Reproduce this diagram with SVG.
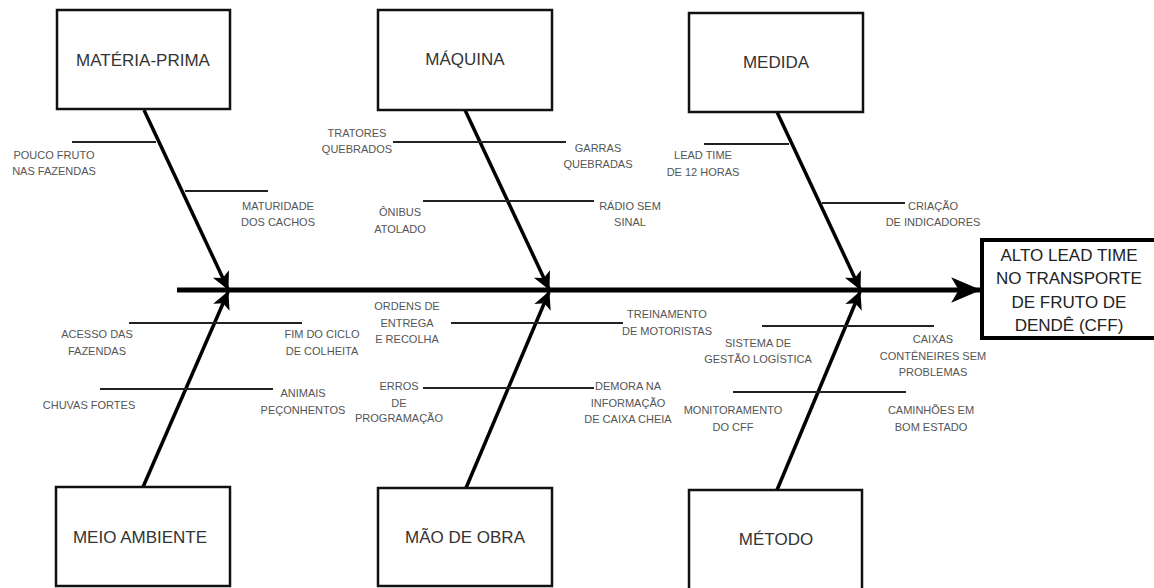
<svg xmlns="http://www.w3.org/2000/svg" width="1154" height="588" viewBox="0 0 1154 588">
<style>
.box{fill:#fff;stroke:#111;stroke-width:2.5}
.big{font-family:"Liberation Sans",Arial,sans-serif;font-size:17px;fill:#333;text-anchor:middle}
.res{font-family:"Liberation Sans",Arial,sans-serif;font-size:17px;fill:#222;text-anchor:middle}
.lbl{font-family:"Liberation Sans",Arial,sans-serif;font-size:11px;fill:#555;text-anchor:middle}
.br{stroke:#222;stroke-width:2;fill:none}
.ar{stroke:#000;stroke-width:3.5;fill:none;marker-end:url(#ah)}
.spine{stroke:#000;stroke-width:5;fill:none;marker-end:url(#ahm)}
</style>
<defs>
<marker id="ah" markerUnits="userSpaceOnUse" markerWidth="20" markerHeight="20" viewBox="-1 -9 18 18" refX="15" refY="0" orient="auto">
<path d="M0,-8 L16,0 L0,8 L4,0 Z" fill="#000"/>
</marker>
<marker id="ahm" markerUnits="userSpaceOnUse" markerWidth="32" markerHeight="30" viewBox="-1 -13 30 26" refX="27" refY="0" orient="auto">
<path d="M0,-12 L28,0 L0,12 L7,0 Z" fill="#000"/>
</marker>
</defs>
<rect width="1154" height="588" fill="#fff"/>
<g id="connectors">
<line class="spine" x1="177" y1="290" x2="980" y2="290"/>
<line class="ar" x1="144" y1="110" x2="228" y2="289"/>
<line class="ar" x1="465" y1="110" x2="549" y2="289"/>
<line class="ar" x1="777" y1="112" x2="860" y2="289"/>
<line class="ar" x1="143" y1="487" x2="228" y2="292"/>
<line class="ar" x1="466" y1="488" x2="549" y2="292"/>
<line class="ar" x1="777" y1="490" x2="860" y2="292"/>
<line class="br" x1="72" y1="142" x2="156" y2="142"/>
<line class="br" x1="185" y1="191" x2="268" y2="191"/>
<line class="br" x1="393" y1="142" x2="566" y2="142"/>
<line class="br" x1="423" y1="201" x2="594" y2="201"/>
<line class="br" x1="704" y1="144" x2="789" y2="144"/>
<line class="br" x1="822" y1="203" x2="905" y2="203"/>
<line class="br" x1="129" y1="323" x2="302" y2="323"/>
<line class="br" x1="100" y1="389" x2="273" y2="389"/>
<line class="br" x1="451" y1="323" x2="623" y2="323"/>
<line class="br" x1="423" y1="388" x2="594" y2="388"/>
<line class="br" x1="762" y1="326" x2="934" y2="326"/>
<line class="br" x1="733" y1="392" x2="906" y2="392"/>
</g>
<g id="materia-prima">
<rect class="box" x="57" y="10" width="173" height="99"/>
<text class="big" x="143" y="66">MATÉRIA-PRIMA</text>
</g>
<g id="maquina">
<rect class="box" x="378" y="10" width="174" height="100"/>
<text class="big" x="465" y="65">MÁQUINA</text>
</g>
<g id="medida">
<rect class="box" x="689" y="13" width="174" height="99"/>
<text class="big" x="776" y="68">MEDIDA</text>
</g>
<g id="meio-ambiente">
<rect class="box" x="56" y="487" width="174" height="99"/>
<text class="big" x="140" y="543">MEIO AMBIENTE</text>
</g>
<g id="mao-de-obra">
<rect class="box" x="378" y="488" width="174" height="98"/>
<text class="big" x="465" y="543">MÃO DE OBRA</text>
</g>
<g id="metodo">
<rect class="box" x="689" y="490" width="173" height="100"/>
<text class="big" x="776" y="545">MÉTODO</text>
</g>
<g id="resultado">
<rect x="982" y="240" width="180" height="98" fill="#fff" stroke="#000" stroke-width="4"/>
<text class="res" x="1069" y="261">ALTO LEAD TIME</text>
<text class="res" x="1069" y="284">NO TRANSPORTE</text>
<text class="res" x="1069" y="308">DE FRUTO DE</text>
<text class="res" x="1069" y="331">DENDÊ (CFF)</text>
</g>
<g id="labels">
<text class="lbl" x="54" y="159">POUCO FRUTO</text>
<text class="lbl" x="54" y="175">NAS FAZENDAS</text>
<text class="lbl" x="278" y="210">MATURIDADE</text>
<text class="lbl" x="278" y="226">DOS CACHOS</text>
<text class="lbl" x="357" y="137">TRATORES</text>
<text class="lbl" x="357" y="153">QUEBRADOS</text>
<text class="lbl" x="598" y="152">GARRAS</text>
<text class="lbl" x="598" y="168">QUEBRADAS</text>
<text class="lbl" x="400" y="216">ÔNIBUS</text>
<text class="lbl" x="400" y="233">ATOLADO</text>
<text class="lbl" x="630" y="210">RÁDIO SEM</text>
<text class="lbl" x="630" y="226">SINAL</text>
<text class="lbl" x="703" y="159">LEAD TIME</text>
<text class="lbl" x="703" y="176">DE 12 HORAS</text>
<text class="lbl" x="933" y="210">CRIAÇÃO</text>
<text class="lbl" x="933" y="226">DE INDICADORES</text>
<text class="lbl" x="97" y="338">ACESSO DAS</text>
<text class="lbl" x="97" y="355">FAZENDAS</text>
<text class="lbl" x="322" y="338">FIM DO CICLO</text>
<text class="lbl" x="322" y="355">DE COLHEITA</text>
<text class="lbl" x="89" y="409">CHUVAS FORTES</text>
<text class="lbl" x="303" y="397">ANIMAIS</text>
<text class="lbl" x="303" y="414">PEÇONHENTOS</text>
<text class="lbl" x="407" y="310">ORDENS DE</text>
<text class="lbl" x="407" y="327">ENTREGA</text>
<text class="lbl" x="407" y="343">E RECOLHA</text>
<text class="lbl" x="667" y="318">TREINAMENTO</text>
<text class="lbl" x="667" y="335">DE MOTORISTAS</text>
<text class="lbl" x="399" y="390">ERROS</text>
<text class="lbl" x="399" y="407">DE</text>
<text class="lbl" x="399" y="422">PROGRAMAÇÃO</text>
<text class="lbl" x="628" y="390">DEMORA NA</text>
<text class="lbl" x="628" y="407">INFORMAÇÃO</text>
<text class="lbl" x="628" y="423">DE CAIXA CHEIA</text>
<text class="lbl" x="758" y="347">SISTEMA DE</text>
<text class="lbl" x="758" y="363">GESTÃO LOGÍSTICA</text>
<text class="lbl" x="933" y="343">CAIXAS</text>
<text class="lbl" x="933" y="360">CONTÊNEIRES SEM</text>
<text class="lbl" x="933" y="376">PROBLEMAS</text>
<text class="lbl" x="733" y="414">MONITORAMENTO</text>
<text class="lbl" x="733" y="431">DO CFF</text>
<text class="lbl" x="931" y="414">CAMINHÕES EM</text>
<text class="lbl" x="931" y="431">BOM ESTADO</text>
</g>
</svg>
